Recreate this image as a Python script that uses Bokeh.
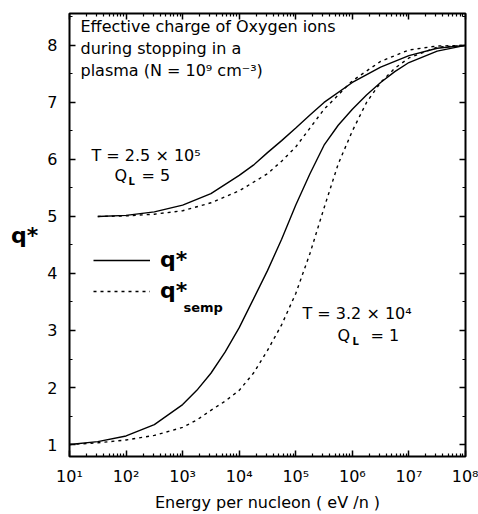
from bokeh.plotting import figure
from bokeh.models import (FixedTicker, LogAxis, LinearAxis, Label, Legend, LegendItem)
from bokeh.embed import file_html
from bokeh.resources import INLINE

# ---- data ----
# energy per nucleon (eV/n)
energy_hi = [3.16e1, 1e2, 3.16e2, 1e3, 3.16e3, 1e4, 1.78e4, 3.16e4, 5.62e4, 1e5, 1.78e5, 3.16e5,
             1e6, 3.16e6, 1e7, 3.16e7, 1e8]
q_hi_solid = [5.0, 5.02, 5.08, 5.2, 5.4, 5.72, 5.9, 6.12, 6.33, 6.55, 6.78, 7.0,
              7.35, 7.62, 7.82, 7.95, 8.0]
q_hi_semp = [5.0, 5.01, 5.04, 5.1, 5.24, 5.45, 5.6, 5.75, 5.97, 6.22, 6.55, 6.88,
             7.38, 7.72, 7.92, 7.99, 8.0]

energy_lo = [1e1, 3.16e1, 1e2, 3.16e2, 1e3, 1.78e3, 3.16e3, 5.62e3, 1e4, 1.78e4, 3.16e4, 5.62e4,
             1e5, 1.78e5, 3.16e5, 5.62e5, 1e6, 1.78e6, 3.16e6, 5.62e6, 1e7, 3.16e7, 1e8]
q_lo_solid = [1.0, 1.05, 1.15, 1.35, 1.7, 1.95, 2.25, 2.62, 3.05, 3.55, 4.05, 4.6,
              5.2, 5.75, 6.25, 6.6, 6.88, 7.13, 7.35, 7.54, 7.7, 7.9, 8.0]
q_lo_semp = [1.0, 1.03, 1.08, 1.16, 1.3, 1.43, 1.6, 1.76, 1.95, 2.25, 2.65, 3.1,
             3.65, 4.35, 5.15, 5.92, 6.5, 7.0, 7.35, 7.6, 7.78, 7.97, 8.0]

x_ticks = [1e1, 1e2, 1e3, 1e4, 1e5, 1e6, 1e7, 1e8]
x_tick_labels = ["10¹", "10²", "10³", "10⁴", "10⁵", "10⁶", "10⁷", "10⁸"]
y_ticks = [1, 2, 3, 4, 5, 6, 7, 8]

FONT = "DejaVu Sans"

p = figure(width=478, height=514, x_axis_type="log", x_range=(10, 1e8), y_range=(0.79, 8.56),
           output_backend="svg", toolbar_location=None,
           min_border_left=69, min_border_right=13, min_border_top=13, min_border_bottom=56)
p.grid.visible = False
p.outline_line_color = "black"
p.outline_line_width = 2
p.background_fill_color = "white"
p.border_fill_color = "white"

# minor ticks
x_minor = [m * d for d in x_ticks[:-1] for m in range(2, 10)]
y_minor = [t + 0.5 for t in y_ticks]
xt = FixedTicker(ticks=x_ticks, minor_ticks=x_minor)
yt = FixedTicker(ticks=y_ticks, minor_ticks=y_minor)

def style_axis(ax):
    ax.axis_line_color = None
    ax.major_tick_in = 6
    ax.major_tick_out = 0
    ax.minor_tick_in = 3
    ax.minor_tick_out = 0
    ax.major_tick_line_color = "black"
    ax.minor_tick_line_color = "black"
    ax.major_tick_line_width = 1.5
    ax.minor_tick_line_width = 1.2

xa = p.xaxis[0]
xa.ticker = xt
xa.major_label_overrides = {int(v): s for v, s in zip(x_ticks, x_tick_labels)}
style_axis(xa)
xa.major_label_text_font = FONT
xa.major_label_text_font_size = "16px"
xa.major_label_text_color = "black"
xa.major_label_standoff = 10
xa.axis_label = "Energy per nucleon ( eV /n )"
xa.axis_label_text_font = FONT
xa.axis_label_text_font_size = "16px"
xa.axis_label_text_font_style = "normal"
xa.axis_label_text_color = "black"
xa.axis_label_standoff = 4

ya = p.yaxis[0]
ya.ticker = yt
style_axis(ya)
ya.major_label_text_font = FONT
ya.major_label_text_font_size = "16px"
ya.major_label_text_color = "black"
ya.major_label_standoff = 12
ya.axis_label = "q*"
ya.axis_label_orientation = "horizontal"
ya.axis_label_text_font = FONT
ya.axis_label_text_font_size = "22px"
ya.axis_label_text_font_style = "bold"
ya.axis_label_text_color = "black"
ya.axis_label_text_baseline = "top"
ya.axis_label_standoff = 6

top = LogAxis(ticker=xt, major_label_text_font_size="1px", major_label_text_color=None,
              major_label_standoff=0)
style_axis(top)
p.add_layout(top, "above")
right = LinearAxis(ticker=yt, major_label_text_font_size="1px", major_label_text_color=None,
                   major_label_standoff=0)
style_axis(right)
p.add_layout(right, "right")

# curves
r1 = p.line(energy_hi, q_hi_solid, line_color="black", line_width=1.4)
r2 = p.line(energy_hi, q_hi_semp, line_color="black", line_width=1.4, line_dash="3 4")
p.line(energy_lo, q_lo_solid, line_color="black", line_width=1.4)
p.line(energy_lo, q_lo_semp, line_color="black", line_width=1.4, line_dash="3 4")

legend = Legend(items=[LegendItem(label="q*", renderers=[r1]), LegendItem(label="q*", renderers=[r2])],
                location=(24, 153), padding=0, margin=0, spacing=6,
                glyph_width=57, glyph_height=20, label_standoff=10,
                label_text_font=FONT, label_text_font_size="22px", label_text_font_style="bold",
                label_text_color="black",
                border_line_color=None, background_fill_alpha=0)
p.add_layout(legend, "center")

def lab(x, y, text, size="16px", style="normal", baseline="middle"):
    # x, y in screen px relative to frame bottom-left
    p.add_layout(Label(x=x, y=y, x_units="screen", y_units="screen", text=text,
                       text_font=FONT, text_font_size=size, text_font_style=style,
                       text_baseline=baseline, text_align="left", text_color="black"))

lab(11, 430, "Effective charge of Oxygen ions")
lab(11, 408, "during stopping in a")
lab(11, 386, "plasma (N = 10⁹ cm⁻³)")
lab(114, 149, "semp", size="13px", style="bold")

lab(22, 301, "T = 2.5 × 10⁵")
lab(45, 281, "Q")
lab(59, 275, "L", size="10px", style="bold")
lab(72, 281, "= 5")

lab(233, 143, "T = 3.2 × 10⁴")
lab(268, 121, "Q")
lab(283, 115, "L", size="10px", style="bold")
lab(301, 121, "= 1")

open("out.html", "w").write(file_html(p, INLINE))
